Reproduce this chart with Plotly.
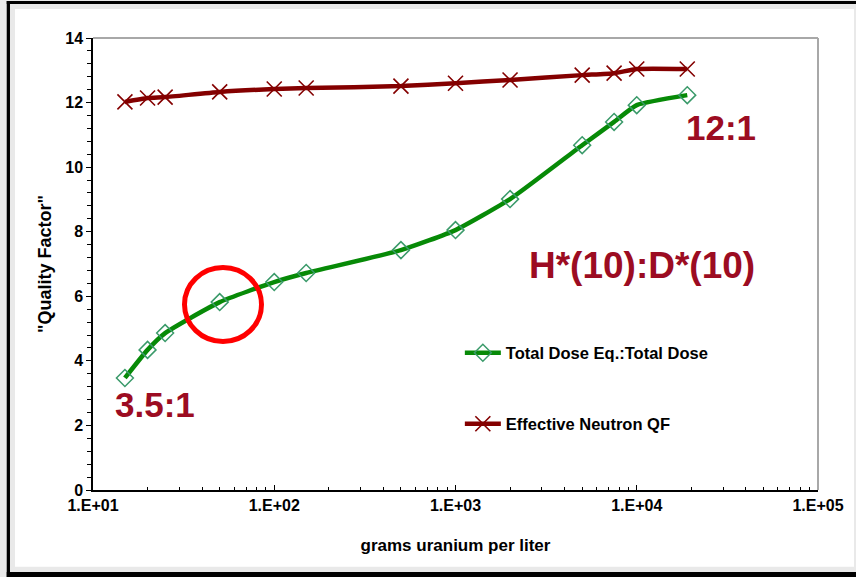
import plotly.graph_objects as go

# ---- data ----
grams_u_per_liter = [15, 20, 25, 50, 100, 150, 500, 1000, 2000, 5000, 7500, 10000, 19000]
total_dose_ratio = [3.47, 4.34, 4.86, 5.82, 6.44, 6.72, 7.43, 8.05, 9.01, 10.68, 11.40, 11.92, 12.23]
effective_neutron_qf = [12.02, 12.14, 12.17, 12.33, 12.42, 12.45, 12.51, 12.60, 12.70, 12.85, 12.91, 13.04, 13.04]

x_tick_vals = [10, 100, 1000, 10000, 100000]
x_tick_text = ["1.E+01", "1.E+02", "1.E+03", "1.E+04", "1.E+05"]
y_tick_vals = [0, 2, 4, 6, 8, 10, 12, 14]

x_minor = [m * 10 ** d for d in range(1, 5) for m in range(2, 10)]

FONT = "Liberation Sans, Arial, sans-serif"
ANN_COLOR = "#9C0C22"

fig = go.Figure()
fig.add_trace(go.Scatter(
    x=grams_u_per_liter, y=total_dose_ratio, name="Total Dose Eq.:Total Dose",
    mode="lines+markers", legend="legend",
    line=dict(color="#078a07", width=4.5, shape="spline", smoothing=0.5),
    marker=dict(symbol="diamond-open", size=13, color="#3a9a6a", line=dict(width=1.5, color="#3a9a6a")),
))
fig.add_trace(go.Scatter(
    x=grams_u_per_liter, y=effective_neutron_qf, name="Effective Neutron QF",
    mode="lines+markers", legend="legend2",
    line=dict(color="#840000", width=4.5, shape="spline", smoothing=0.5),
    marker=dict(symbol="x-thin-open", size=15, color="#840000", line=dict(width=1.6, color="#840000")),
))

shapes = [
    # white panel on gray background
    dict(type="rect", xref="paper", yref="paper", x0=-0.1076, x1=1.0497, y0=-0.170, y1=1.0642,
         fillcolor="white", line=dict(width=0), layer="below"),
    # black frame pieces (top, left, bottom)
    dict(type="rect", xref="paper", yref="paper", x0=-0.119, x1=1.2, y0=1.0752, y1=1.0819,
         fillcolor="black", line=dict(width=0), layer="below"),
    dict(type="rect", xref="paper", yref="paper", x0=-0.119, x1=-0.1145, y0=-0.3, y1=1.0819,
         fillcolor="black", line=dict(width=0), layer="below"),
    dict(type="rect", xref="paper", yref="paper", x0=-0.119, x1=1.2, y0=-0.3, y1=-0.1814,
         fillcolor="black", line=dict(width=0), layer="below"),
    # gray plot-area border top and right
    dict(type="line", xref="paper", yref="paper", x0=0, x1=1, y0=1, y1=1,
         line=dict(color="#a8a8a8", width=2)),
    dict(type="line", xref="paper", yref="paper", x0=1, x1=1, y0=0, y1=1,
         line=dict(color="#a8a8a8", width=2)),
    # red circle highlight
    dict(type="circle", xref="paper", yref="paper", x0=0.1262, x1=0.2324, y0=0.3285, y1=0.4923,
         line=dict(color="#ff0000", width=5)),
]

annotations = [
    dict(text="12:1", x=0.866, y=0.801, size=35),
    dict(text="H*(10):D*(10)", x=0.757, y=0.496, size=37),
    dict(text="3.5:1", x=0.0855, y=0.190, size=35),
]
annotations = [dict(text=a["text"], x=a["x"], y=a["y"], xref="paper", yref="paper", showarrow=False,
                    xanchor="center", yanchor="middle",
                    font=dict(family=FONT, size=a["size"], color=ANN_COLOR, weight="bold")) for a in annotations]

legend_common = dict(x=0.506, xanchor="left", yanchor="middle", bgcolor="rgba(0,0,0,0)", itemwidth=36,
                     font=dict(family=FONT, size=16.5, color="black", weight="bold"))

fig.update_layout(
    width=856, height=577,
    margin=dict(l=93, r=38, t=38, b=87, autoexpand=False),
    paper_bgcolor="#e9e9e9", plot_bgcolor="white",
    font=dict(family=FONT, color="black", size=13, weight="bold"),
    shapes=shapes, annotations=annotations,
    showlegend=True,
    legend=dict(legend_common, y=0.303),
    legend2=dict(legend_common, y=0.146),
    xaxis=dict(type="log", range=[1, 5], tickvals=x_tick_vals, ticktext=x_tick_text, automargin=False,
               showgrid=False, zeroline=False, showline=True, linecolor="black", linewidth=1.5,
               ticks="inside", ticklen=5, tickcolor="black",
               minor=dict(tickvals=x_minor, ticks="inside", ticklen=3, tickcolor="black", showgrid=False),
               tickfont=dict(family=FONT, size=16, weight="bold"),
               title=dict(text="grams uranium per liter", standoff=26,
                          font=dict(family=FONT, size=17, weight="bold"))),
    yaxis=dict(range=[0, 14], tickvals=y_tick_vals, automargin=False,
               showgrid=False, zeroline=False, showline=True, linecolor="black", linewidth=1.5,
               ticks="outside", ticklen=5, tickcolor="black",
               minor=dict(dtick=0.4, ticks="outside", ticklen=4, tickcolor="black", showgrid=False),
               tickfont=dict(family=FONT, size=16, weight="bold"),
               title=dict(text='"Quality Factor"', standoff=9,
                          font=dict(family=FONT, size=18, weight="bold"))),
)

fig.write_html("out.html", config={"displayModeBar": False},
               post_script="document.body.style.margin='0';document.body.style.overflow='hidden';")
